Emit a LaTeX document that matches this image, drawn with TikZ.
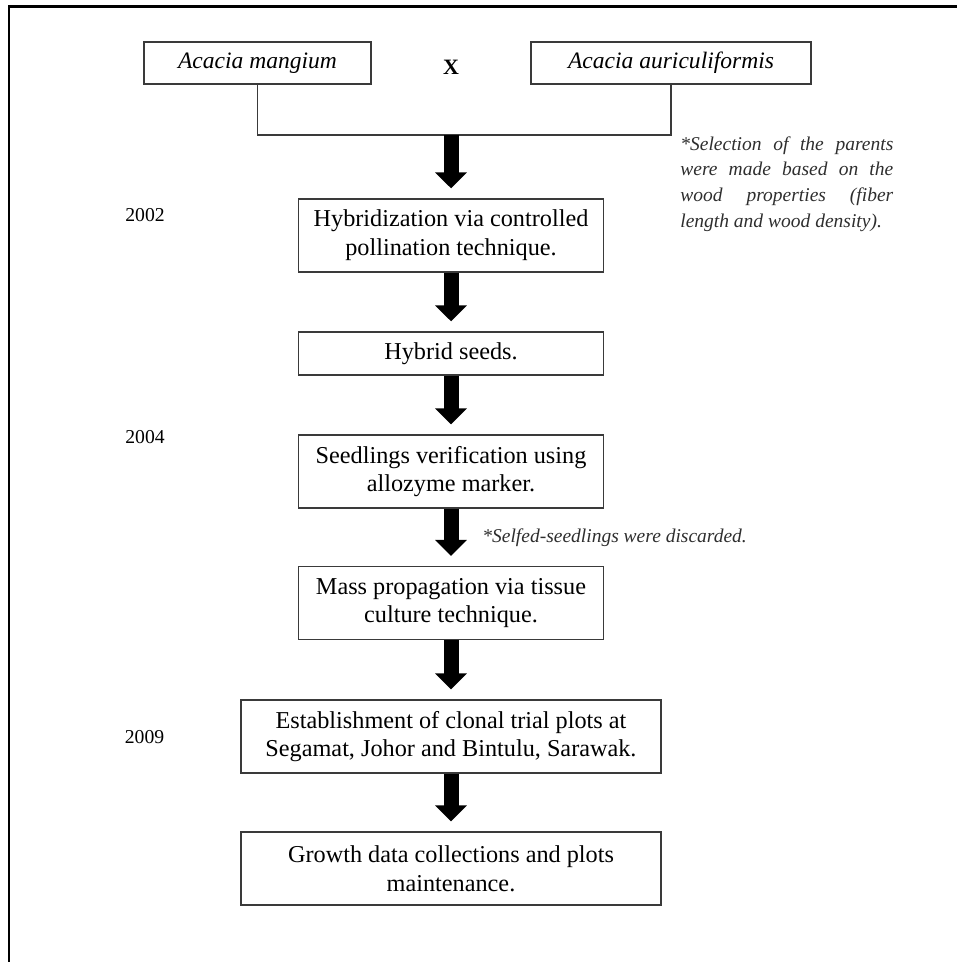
\documentclass[tikz,border=0pt]{standalone}
\usepackage{fontspec}
\setmainfont{Liberation Serif}
\usetikzlibrary{arrows.meta}
\definecolor{BoxLine}{HTML}{3A3A3A}
\definecolor{NoteGray}{HTML}{2E2E2E}

\begin{document}
\begin{tikzpicture}[x=0.02cm,y=-0.02cm,
  stepbox/.style={draw=BoxLine,line width=0.8pt,fill=white,align=center,
    inner sep=0pt,minimum width=6.1cm,minimum height=1.46cm,
    font=\fontsize{13.8}{16.4}\selectfont},
  parentbox/.style={stepbox,minimum height=0.84cm,
    font=\fontsize{13.4}{15}\selectfont\itshape},
  yearlab/.style={inner sep=0pt,font=\fontsize{11.2}{13}\selectfont},
  notelab/.style={text=NoteGray,inner sep=0pt,align=left,
    font=\fontsize{11.1}{14.6}\selectfont\itshape},
  bigarrow/.style={line width=0.3cm,
    -{Triangle[width=0.62cm,length=0.32cm]},shorten >=0.2cm},
  bracket/.style={BoxLine,line width=0.8pt}]
\path[use as bounding box] (0,0) rectangle (957,962);
% frame, only its left and top sides are in view
\draw[line width=1.7pt] (9,962) -- (9,7) -- (957,7);

% parents
\node[parentbox,minimum width=4.54cm] (mangium) at (257.5,63) {Acacia mangium};
\node[parentbox,minimum width=5.6cm] (auric) at (671,63) {Acacia auriculiformis};
\node[inner sep=0pt,font=\fontsize{12.5}{15}\selectfont\bfseries] (cross)
      at (451,67) {X};
\coordinate (join) at (451,135);
\draw[bracket] (mangium.south) |- (join) -| (auric.south);
\node[notelab,anchor=north west] (selnote) at (680,136)
      {\makebox[4.26cm][s]{*Selection of the parents}\\
       \makebox[4.26cm][s]{were made based on the}\\
       \makebox[4.26cm][s]{wood properties (fiber}\\
       length and wood density).};

% steps
\node[stepbox] (hybrid) at (451,235.5)
      {Hybridization via controlled\\pollination technique.};
\node[stepbox,minimum height=0.86cm] (seeds) at (451,353.5) {Hybrid seeds.};
\node[stepbox] (verify) at (451,471.5)
      {Seedlings verification using\\allozyme marker.};
\node[stepbox] (mass) at (451,603)
      {Mass propagation via tissue\\culture technique.};
\node[stepbox,minimum width=8.4cm] (trial) at (451,736.5)
      {Establishment of clonal trial plots at\\Segamat, Johor and Bintulu, Sarawak.};
\node[stepbox,minimum width=8.4cm] (growth) at (451,868.5)
      {Growth data collections and plots\\maintenance.};

% years
\node[yearlab] (y2002) at (145,215) {2002};
\node[yearlab] (y2004) at (145,437) {2004};
\node[yearlab] (y2009) at (144.5,737) {2009};

% arrows
\draw[bigarrow] (join) -- (hybrid.north);
\draw[bigarrow] (hybrid.south) -- (seeds.north);
\draw[bigarrow] (seeds.south) -- (verify.north);
\draw[bigarrow] (verify.south) -- (mass.north);
\draw[bigarrow] (mass.south) -- (trial.north);
\draw[bigarrow] (trial.south) -- (growth.north);
\node[notelab,anchor=west] (selfnote) at (482,538)
      {*Selfed-seedlings were discarded.};
\end{tikzpicture}
\end{document}
